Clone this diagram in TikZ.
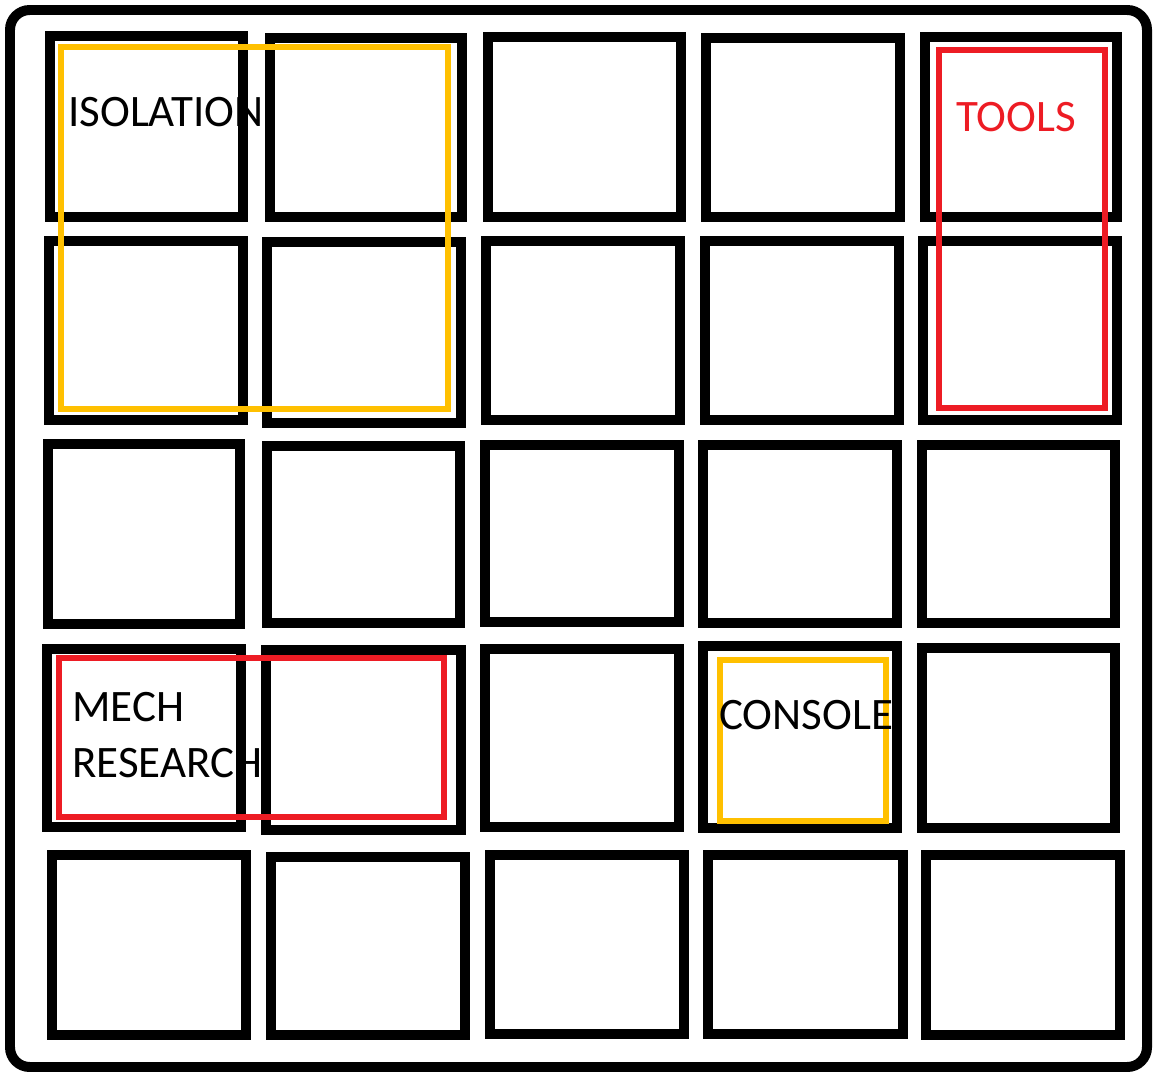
\documentclass[tikz,border=0pt]{standalone}
\usepackage{fontspec}
\setmainfont{Carlito}
\usepackage{tikz}
\usetikzlibrary{positioning}
\definecolor{zonegold}{HTML}{FFC000}
\definecolor{zonered}{HTML}{ED1C24}
\tikzset{cell/.style={draw=black,line width=7.8pt},
 frame/.style={draw=black,line width=7.1pt,rounded corners=14pt},
 zone/.style={line width=4.6pt},
 lbl/.style={font=\fontsize{32}{39.8}\selectfont,inner sep=0pt,anchor=base west,align=left}}

\begin{document}
\begin{tikzpicture}[x=0.025cm,y=-0.025cm]
\useasboundingbox (0,0) rectangle (1153,1072);
\draw[frame] (10,10) rectangle (1147,1067);
% grid of bays, row by row
\foreach \xa/\ya/\xb/\yb in {
 50/36/243/217, 270/38/462/217, 488/37/681/217, 706/38/900/217, 925/37/1117/217,
 49/241/243/420, 267/242/461/423, 486/241/680/420, 705/241/899/420, 923/241/1117/420,
 48/444/240/624, 267/446/460/623, 485/445/679/622, 703/445/897/623, 922/445/1115/623,
 47/649/241/827, 266/650/461/830, 485/649/679/827, 703/646/897/828, 922/648/1115/828,
 52/855/246/1035, 271/857/465/1035, 490/855/684/1034, 708/855/903/1034, 926/855/1120/1035}
 \draw[cell] (\xa,\ya) rectangle (\xb,\yb);
\draw[zone,zonegold] (61,47) rectangle (448,409);
\draw[zone,zonered] (939,50) rectangle (1105,408);
\draw[zone,zonered] (59,658) rectangle (444,817);
\draw[zone,zonegold] (720,660) rectangle (886,821);
\node[lbl] (iso) at (68,126) {ISOLATION};
\node[lbl,text=zonered] (tools) at (956,131) {TOOLS};
\node[lbl] (mech) at (72,777) {MECH\\RESEARCH};
\node[lbl] (console) at (719,729) {CONSOLE};
\end{tikzpicture}
\end{document}
